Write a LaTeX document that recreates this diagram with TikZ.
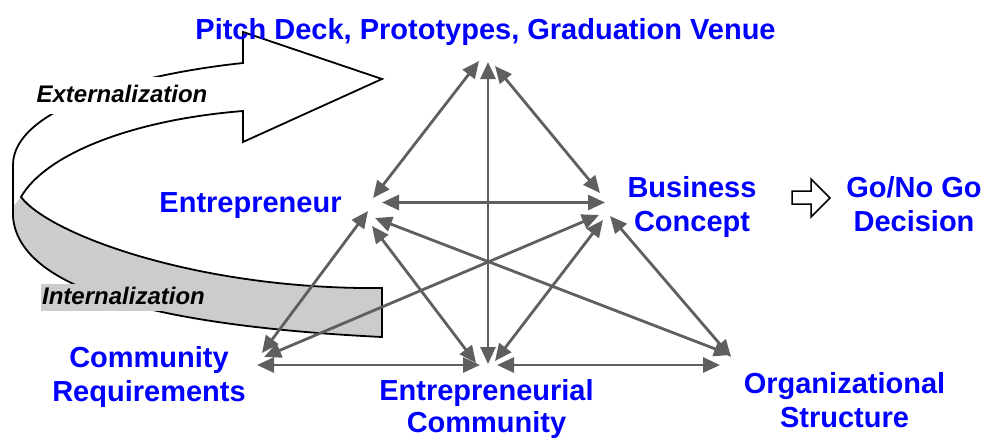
\documentclass[tikz,border=0pt]{standalone}
\usepackage{fontspec}
\setmainfont{Liberation Sans}
\usetikzlibrary{arrows.meta}
\definecolor{labelblue}{RGB}{0,0,255}
\definecolor{linkgray}{RGB}{95,95,95}
\definecolor{bandgray}{RGB}{204,204,204}
\begin{document}
\begin{tikzpicture}[x=1pt,y=-1pt,
  lbl/.style={font=\fontsize{29}{34}\selectfont\bfseries, text=labelblue, inner sep=0pt, anchor=base},
  flowlbl/.style={font=\fontsize{24}{28}\selectfont\bfseries\itshape, text=black, inner xsep=1pt, text height=17pt, text depth=4pt, anchor=base},
  link/.style={draw=linkgray, line width=2.8pt, {Triangle[length=17pt,width=15pt]}-{Triangle[length=17pt,width=15pt]}},
  ribbon/.style={draw=black, line width=1.8pt},
]
\useasboundingbox (0,0) rectangle (987,440);

% ---- ribbon (externalization / internalization) ----
\fill[bandgray] (21,197) .. controls (50,235) and (200,290) .. (382,288) -- (382,337)
  .. controls (200,328) and (20,300) .. (13,217) -- (13,207) -- cycle;
\draw[ribbon, line join=miter] (21,197) .. controls (50,235) and (200,290) .. (382,288) -- (382,337)
  .. controls (200,328) and (20,300) .. (13,217) -- (13,165)
  .. controls (13,110) and (130,75) .. (243,63) -- (243,32) -- (382,79) -- (243,142) -- (243,111)
  .. controls (130,120) and (45,155) .. (21,197) -- cycle;

\node[flowlbl, fill=white, inner ysep=8pt] (ext) at (122,102) {Externalization};
\node[flowlbl, fill=bandgray, inner ysep=3pt] (int) at (123.5,304) {Internalization};

% ---- labels ----
\node[lbl] (nT) at (485.5,39) {Pitch Deck, Prototypes, Graduation Venue};
\node[lbl] (nE) at (250.5,212) {Entrepreneur};
\node[lbl] (nB) at (692,197) {\begin{tabular}[t]{@{}c@{}}Business\\Concept\end{tabular}};
\node[lbl] (nG) at (914,197) {\begin{tabular}[t]{@{}c@{}}Go/No Go\\Decision\end{tabular}};
\node[lbl] (nC) at (149,367) {\begin{tabular}[t]{@{}c@{}}Community\\Requirements\end{tabular}};
\node[lbl, font=\fontsize{29}{32.5}\selectfont\bfseries] (nM) at (486.5,400) {\begin{tabular}[t]{@{}c@{}}Entrepreneurial\\Community\end{tabular}};
\node[lbl] (nO) at (844.5,393) {\begin{tabular}[t]{@{}c@{}}Organizational\\Structure\end{tabular}};

% ---- small block arrow ----
\draw[line width=1.5pt, line join=miter] (792,191) -- (811,191) -- (811,179) -- (830,198)
  -- (811,217) -- (811,204) -- (792,204) -- cycle;

% ---- connector end points ----
\coordinate (t-e) at (479,61);
\coordinate (t-m) at (488,62);
\coordinate (t-b) at (495,66);
\coordinate (e-t) at (373,198);
\coordinate (e-b) at (382,202.5);
\coordinate (e-c) at (368,211);
\coordinate (e-o) at (375,218);
\coordinate (e-m) at (372,226);
\coordinate (b-t) at (600,193);
\coordinate (b-e) at (605,202.5);
\coordinate (b-c) at (599,215);
\coordinate (b-m) at (603,220);
\coordinate (b-o) at (610,216);
\coordinate (c-e) at (262,353);
\coordinate (c-b) at (264,357);
\coordinate (c-m) at (257,365);
\coordinate (m-t) at (488,364);
\coordinate (m-e) at (476,363);
\coordinate (m-c) at (480,365);
\coordinate (m-b) at (495,361);
\coordinate (m-o) at (497,365);
\coordinate (o-e) at (731,355);
\coordinate (o-b) at (731,357);
\coordinate (o-m) at (720,365);

% ---- connectors ----
\draw[link] (t-e) -- (e-t);
\draw[link] (t-m) -- (m-t);
\draw[link] (t-b) -- (b-t);
\draw[link] (e-b) -- (b-e);
\draw[link] (e-c) -- (c-e);
\draw[link] (e-m) -- (m-e);
\draw[link] (e-o) -- (o-e);
\draw[link] (b-c) -- (c-b);
\draw[link] (b-m) -- (m-b);
\draw[link] (b-o) -- (o-b);
\draw[link] (c-m) -- (m-c);
\draw[link] (m-o) -- (o-m);
\end{tikzpicture}
\end{document}
